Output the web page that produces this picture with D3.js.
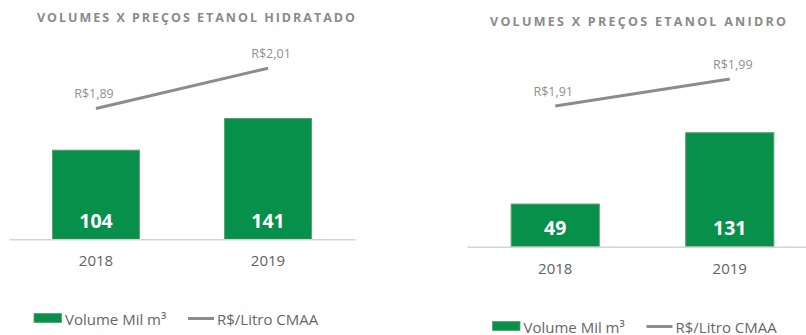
<!DOCTYPE html>
<html>
<head>
<meta charset="utf-8">
<script src="https://cdn.jsdelivr.net/npm/d3@7"></script>
<style>
  html, body { margin: 0; padding: 0; background: #fff; }
  svg { display: block; font-family: "Open Sans", sans-serif; }
</style>
</head>
<body>
<svg id="chart" width="806" height="335"></svg>
<script>
// Years shown on both charts
const years = ["2018", "2019"];

// Etanol hidratado: volume (mil m³) and price (R$/litro CMAA)
const hidratadoVolume = [104, 141];
const hidratadoPrice = [1.89, 2.01];

// Etanol anidro: volume (mil m³) and price (R$/litro CMAA)
const anidroVolume = [49, 131];
const anidroPrice = [1.91, 1.99];

// Chart titles and legend entries
const titles = ["VOLUMES X PREÇOS ETANOL HIDRATADO", "VOLUMES X PREÇOS ETANOL ANIDRO"];
const legendLabels = ["Volume Mil m³", "R$/Litro CMAA"];

const ptBR = d3.formatLocale({ decimal: ",", thousands: ".", grouping: [3], currency: ["R$", ""] });
const fmtPrice = ptBR.format("$.2f");

const GREEN = "#07904a";
const GREEN_EDGE = "#5a9f6c";
const LINE_GRAY = "#8c8c8c";

const svg = d3.select("#chart");

function drawChart(volume, price, title, layout) {
  const g = svg.append("g");

  const x = d3.scaleBand()
    .domain(years)
    .range([layout.left, layout.right])
    .paddingInner(0.495)
    .paddingOuter(0.253);

  const yVol = d3.scaleLinear()
    .domain([0, layout.volMax])
    .range([layout.bottom, layout.top]);

  const yPrice = d3.scaleLinear()
    .domain(layout.priceDomain)
    .range([layout.bottom, layout.top]);

  // title
  g.append("text")
    .attr("x", layout.titleX)
    .attr("y", layout.titleY)
    .attr("text-anchor", "middle")
    .attr("font-size", 12.5)
    .attr("font-weight", 700)
    .attr("fill", "#8a8a8a")
    .attr("textLength", layout.titleWidth)
    .attr("lengthAdjust", "spacing")
    .text(title);

  // bars
  g.selectAll("rect.bar")
    .data(volume)
    .join("rect")
    .attr("class", "bar")
    .attr("x", (d, i) => x(years[i]))
    .attr("y", d => yVol(d))
    .attr("width", x.bandwidth())
    .attr("height", d => yVol(0) - yVol(d))
    .attr("fill", GREEN)
    .attr("stroke", GREEN_EDGE)
    .attr("stroke-width", 1);

  // category axis
  const axis = d3.axisBottom(x).tickSize(0).tickPadding(0);
  const ax = g.append("g")
    .attr("transform", `translate(0,${layout.bottom})`)
    .call(axis);
  ax.select(".domain")
    .attr("stroke", "#d4d4d4")
    .attr("stroke-width", 1.5);
  ax.selectAll(".tick text")
    .attr("y", 27)
    .attr("dy", 0)
    .attr("font-family", "Open Sans, sans-serif")
    .attr("font-size", 15)
    .attr("fill", "#626262");

  // value labels inside the bars
  g.selectAll("text.vol")
    .data(volume)
    .join("text")
    .attr("class", "vol")
    .attr("x", (d, i) => x(years[i]) + x.bandwidth() / 2)
    .attr("y", yVol(0) - 11.6)
    .attr("text-anchor", "middle")
    .attr("font-size", 19.5)
    .attr("font-weight", 700)
    .attr("fill", "#ffffff")
    .text(d => d);

  // price line
  const line = d3.line()
    .x((d, i) => x(years[i]) + x.bandwidth() / 2)
    .y(d => yPrice(d));
  g.append("path")
    .datum(price)
    .attr("d", line)
    .attr("fill", "none")
    .attr("stroke", LINE_GRAY)
    .attr("stroke-width", 3);

  g.selectAll("text.price")
    .data(price)
    .join("text")
    .attr("class", "price")
    .attr("x", (d, i) => x(years[i]) + x.bandwidth() / 2 + (i === 0 ? -2 : 3))
    .attr("y", d => yPrice(d) - 10)
    .attr("text-anchor", "middle")
    .attr("font-size", 12.5)
    .attr("fill", "#8f8f8f")
    .text(d => fmtPrice(d));

  // legend
  const lg = g.append("g");
  lg.append("rect")
    .attr("x", layout.legendX)
    .attr("y", layout.legendY - 5)
    .attr("width", 27.5)
    .attr("height", 9)
    .attr("fill", GREEN)
    .attr("stroke", GREEN_EDGE)
    .attr("stroke-width", 0.8);
  lg.append("text")
    .attr("x", layout.legendX + 31)
    .attr("y", layout.legendY + 6)
    .attr("font-size", 15)
    .attr("fill", "#666")
    .text(legendLabels[0]);
  lg.append("line")
    .attr("x1", layout.legendX + 154)
    .attr("x2", layout.legendX + 180)
    .attr("y1", layout.legendY)
    .attr("y2", layout.legendY)
    .attr("stroke", LINE_GRAY)
    .attr("stroke-width", 3);
  lg.append("text")
    .attr("x", layout.legendX + 183)
    .attr("y", layout.legendY + 6)
    .attr("font-size", 15)
    .attr("fill", "#666")
    .text(legendLabels[1]);
}

drawChart(hidratadoVolume, hidratadoPrice, titles[0], {
  left: 9, right: 355, top: 38, bottom: 239.3,
  volMax: 235, priceDomain: [1.5, 2.1],
  titleX: 196, titleY: 22, titleWidth: 318,
  legendX: 34, legendY: 318.5
});

drawChart(anidroVolume, anidroPrice, titles[1], {
  left: 467, right: 818, top: 44, bottom: 246.7,
  volMax: 233, priceDomain: [1.493, 2.094],
  titleX: 638, titleY: 26, titleWidth: 296,
  legendX: 492.5, legendY: 326.5
});
</script>
</body>
</html>
